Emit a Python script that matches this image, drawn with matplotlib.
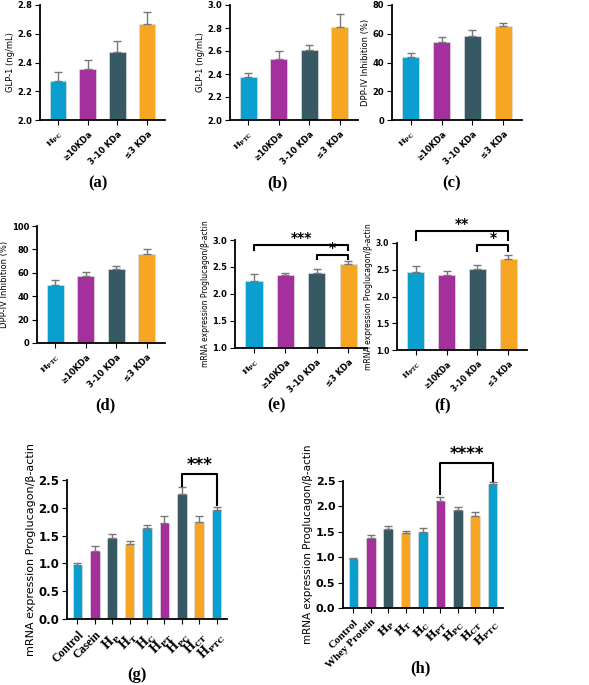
import matplotlib
matplotlib.use("Agg")
import matplotlib.pyplot as plt

plt.rcParams['font.family'] = 'DejaVu Sans'
plt.rcParams['mathtext.fontset'] = 'dejavuserif'

BLUE, PURPLE, DARK, ORANGE = '#0a9fcf', '#a3309d', '#375963', '#f6a623'
cols4 = [BLUE, PURPLE, DARK, ORANGE]
cols9 = [BLUE, PURPLE, DARK, ORANGE, BLUE, PURPLE, DARK, ORANGE, BLUE]

# data
lab_pc = [r'$\mathbf{H_{PC}}$', '≥10KDa', '3-10 KDa', '≤3 KDa']
lab_ptc = [r'$\mathbf{H_{PTC}}$', '≥10KDa', '3-10 KDa', '≤3 KDa']
lab_g = ['Control', 'Casein', r'$\mathbf{H_P}$', r'$\mathbf{H_T}$', r'$\mathbf{H_C}$',
         r'$\mathbf{H_{PT}}$', r'$\mathbf{H_{PC}}$', r'$\mathbf{H_{CT}}$', r'$\mathbf{H_{PTC}}$']
lab_h = ['Control', 'Whey Protein'] + lab_g[2:]

a_val = [2.27, 2.355, 2.475, 2.67]; a_err = [0.065, 0.065, 0.075, 0.08]
b_val = [2.37, 2.53, 2.605, 2.805]; b_err = [0.035, 0.07, 0.05, 0.12]
c_val = [43.5, 54.5, 58.5, 65.3]; c_err = [3, 3, 4, 2.5]
d_val = [50, 57.5, 63.5, 76]; d_err = [3.5, 3.5, 2, 4.5]
e_val = [2.24, 2.35, 2.39, 2.555]; e_err = [0.13, 0.04, 0.07, 0.05]
f_val = [2.45, 2.40, 2.51, 2.70]; f_err = [0.12, 0.08, 0.08, 0.07]
g_val = [0.97, 1.23, 1.46, 1.35, 1.63, 1.72, 2.24, 1.75, 1.96]
g_err = [0.03, 0.09, 0.06, 0.06, 0.06, 0.14, 0.13, 0.11, 0.05]
h_val = [0.96, 1.38, 1.56, 1.47, 1.49, 2.10, 1.93, 1.81, 2.44]
h_err = [0.03, 0.06, 0.06, 0.05, 0.08, 0.09, 0.06, 0.07, 0.05]

W, H = 589, 685
fig = plt.figure(figsize=(W / 100, H / 100), dpi=100)


def panel(l, r, t, b, vals, errs, labels, cols, ylim, yticks, ylabel, fs=6, ylfs=6):
    ax = fig.add_axes([l / W, 1 - b / H, (r - l) / W, (b - t) / H])
    x = range(len(vals))
    ax.bar(x, vals, width=0.55, color=cols, edgecolor='#dddddd', linewidth=0.5)
    ax.errorbar(x, vals, yerr=[[0] * len(vals), errs], fmt='none', ecolor='#777777',
                elinewidth=1, capsize=3)
    ax.set_ylim(*ylim)
    ax.set_yticks(yticks)
    ax.set_xlim(-0.6, len(vals) - 0.4)
    ax.set_xticks(list(x))
    ax.set_xticklabels(labels, rotation=45, ha='right', rotation_mode='anchor',
                       fontsize=fs, fontweight='bold')
    for t_ in ax.get_xticklabels():
        if t_.get_text().startswith('$') or t_.get_text() in ('Control', 'Casein', 'Whey Protein'):
            t_.set_fontfamily('Liberation Serif')
    ax.tick_params(axis='y', labelsize=fs, pad=2)
    for t_ in ax.get_yticklabels():
        t_.set_fontweight('bold')
    ax.set_ylabel(ylabel, fontsize=ylfs, labelpad=2)
    ax.spines['top'].set_visible(False)
    ax.spines['right'].set_visible(False)
    for s in ('left', 'bottom'):
        ax.spines[s].set_linewidth(1.3)
    return ax


def bracket(ax, x0, x1, y, d0, d1, txt, fs=10):
    ax.plot([x0, x0, x1, x1], [d0, y, y, d1], color='black', lw=1.5, clip_on=False)
    ax.text((x0 + x1) / 2, y, txt, ha='center', va='bottom', fontsize=fs,
            fontweight='bold', clip_on=False)


panel(40, 165, 5, 120, a_val, a_err, lab_pc, cols4, (2.0, 2.8), [2.0, 2.2, 2.4, 2.6, 2.8], 'GLP-1 (ng/mL)')
panel(230, 358, 5, 120, b_val, b_err, lab_ptc, cols4, (2.0, 3.0), [2.0, 2.2, 2.4, 2.6, 2.8, 3.0], 'GLP-1 (ng/mL)')
panel(392, 522, 5, 120, c_val, c_err, lab_pc, cols4, (0, 80), [0, 20, 40, 60, 80], 'DPP-IV Inhibition (%)')
panel(37, 165, 226, 343, d_val, d_err, lab_ptc, cols4, (0, 100), [0, 20, 40, 60, 80, 100], 'DPP-IV Inhibition (%)')
ax = panel(235, 367, 240, 348, e_val, e_err, lab_pc, cols4, (1.0, 3.0), [1.0, 1.5, 2.0, 2.5, 3.0],
           'mRNA expression Proglucagon/β-actin', ylfs=5.5)
bracket(ax, 0, 3, 2.9, 2.82, 2.82, '***')
bracket(ax, 2, 3, 2.72, 2.64, 2.64, '*')
ax = panel(397, 527, 243, 350, f_val, f_err, lab_ptc, cols4, (1.0, 3.0), [1.0, 1.5, 2.0, 2.5, 3.0],
           'mRNA expression Proglucagon/β-actin', fs=5.5, ylfs=5.5)
bracket(ax, 0, 3, 3.22, 3.05, 3.05, '**')
bracket(ax, 2, 3, 2.97, 2.85, 2.85, '*')
ax = panel(67, 227, 480, 619, g_val, g_err, lab_g, cols9, (0, 2.5), [0, 0.5, 1.0, 1.5, 2.0, 2.5],
           'mRNA expression Proglucagon/β-actin', fs=8.5, ylfs=8)
bracket(ax, 6, 8, 2.6, 2.4, 2.05, '***', fs=12)
ax = panel(343, 503, 481, 608, h_val, h_err, lab_h, cols9, (0, 2.5), [0, 0.5, 1.0, 1.5, 2.0, 2.5],
           'mRNA expression Proglucagon/β-actin', fs=8, ylfs=7.5)
bracket(ax, 5, 8, 2.85, 2.25, 2.5, '****', fs=12)

for lab, x, y in [('(a)', 98, 183), ('(b)', 277, 183), ('(c)', 452, 183), ('(d)', 105, 405),
                  ('(e)', 277, 405), ('(f)', 443, 405), ('(g)', 137, 675), ('(h)', 420, 668)]:
    fig.text(x / W, 1 - y / H, lab, ha='center', va='center', fontsize=12,
             fontweight='bold', family='Liberation Serif')

fig.savefig('out.png', dpi=100)
